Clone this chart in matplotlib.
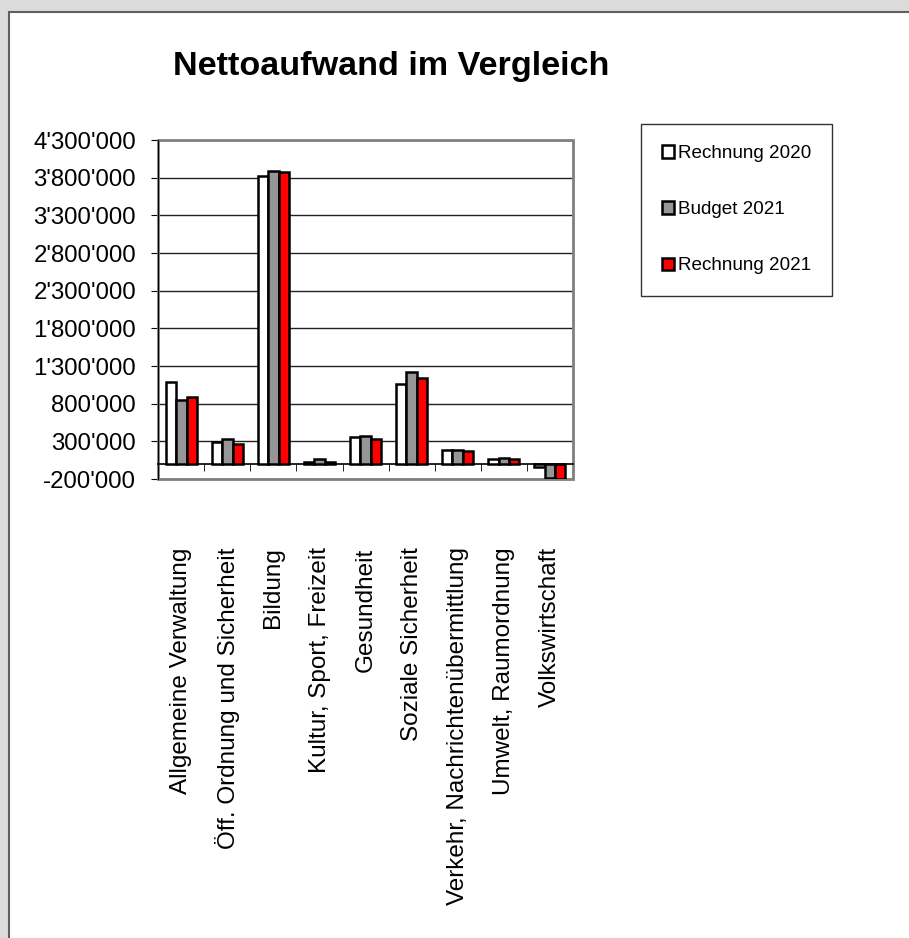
import matplotlib.pyplot as plt
import numpy as np
from matplotlib.patches import Rectangle, Patch
from matplotlib.ticker import FuncFormatter

plt.rcParams['font.family'] = ['Liberation Sans', 'DejaVu Sans']

categories = ["Allgemeine Verwaltung", "Öff. Ordnung und Sicherheit", "Bildung",
              "Kultur, Sport, Freizeit", "Gesundheit", "Soziale Sicherheit",
              "Verkehr, Nachrichtenübermittlung", "Umwelt, Raumordnung", "Volkswirtschaft"]
rechnung_2020 = [1085000, 292000, 3825000, 30000, 363000, 1062000, 186000, 66000, -44000]
budget_2021 = [850000, 328000, 3890000, 62000, 372000, 1226000, 186000, 84000, -182000]
rechnung_2021 = [894000, 270000, 3870000, 30000, 336000, 1146000, 168000, 71000, -205000]
series_names = ["Rechnung 2020", "Budget 2021", "Rechnung 2021"]
series_colors = ["white", "#969696", "#ff0000"]

fig = plt.figure(figsize=(9.09, 9.38), dpi=100)
fig.patch.set_facecolor("#dcdcdc")
# white sheet with dark border
fig.patches.append(Rectangle((9 / 909, -0.1), 1.2, (926 / 938) + 0.1, transform=fig.transFigure,
                             facecolor="white", edgecolor="#606060", lw=1.5, zorder=-10))

ax = fig.add_axes([0.1742, 0.4893, 0.4559, 0.3614])
ax.set_zorder(2)
x = np.arange(len(categories))
w = 0.224
for i, (vals, col, name) in enumerate(zip([rechnung_2020, budget_2021, rechnung_2021],
                                          series_colors, series_names)):
    ax.bar(x + (i - 1) * w, vals, width=w, color=col, edgecolor="black", lw=1.8,
           label=name, zorder=3)

ax.set_xlim(-0.5, len(categories) - 0.5)
ax.set_ylim(-200000, 4300000)
ax.set_yticks(np.arange(-200000, 4300001, 500000))
ax.yaxis.set_major_formatter(FuncFormatter(lambda v, p: f"{int(v):,}".replace(",", "'")))
ax.grid(axis="y", color="#222222", lw=1.0)
ax.set_axisbelow(True)

for s in ["top", "right"]:
    ax.spines[s].set_visible(False)
ax.spines["left"].set_color("black")
ax.spines["bottom"].set_position(("data", 0))
ax.spines["bottom"].set_color("black")
ax.spines["bottom"].set_linewidth(1.2)
ax.add_patch(Rectangle((0, 0), 1, 1, transform=ax.transAxes, fill=False,
                       edgecolor="#808080", lw=2, zorder=1, clip_on=False))

ax.set_xticks(x)
ax.set_xticklabels(categories, rotation=90, ha="center", va="top", fontsize=17.5)
ax.set_xticks(np.arange(-0.5, len(categories), 1.0), minor=True)
ax.tick_params(axis="x", which="major", length=0, pad=60)
ax.tick_params(axis="x", which="minor", length=5, direction="out", color="black")
ax.tick_params(axis="y", length=5, pad=11, labelsize=17.3)

fig.text(0.430, 0.920, "Nettoaufwand im Vergleich", ha="center", va="baseline",
         fontsize=24.6, fontweight="bold")

handles = [Patch(facecolor=c, edgecolor="black", lw=1.8) for c in series_colors]
leg = fig.legend(handles, series_names, loc="upper left",
                 bbox_to_anchor=(641 / 909, (938 - 124) / 938), fontsize=13.6,
                 frameon=True, fancybox=False, edgecolor="black", borderpad=1.12,
                 labelspacing=2.07, handlelength=0.62, handleheight=0.62,
                 handletextpad=0.2, borderaxespad=0)
leg.get_frame().set_linewidth(1.0)

fig.savefig("out.png", dpi=100, facecolor=fig.get_facecolor())
